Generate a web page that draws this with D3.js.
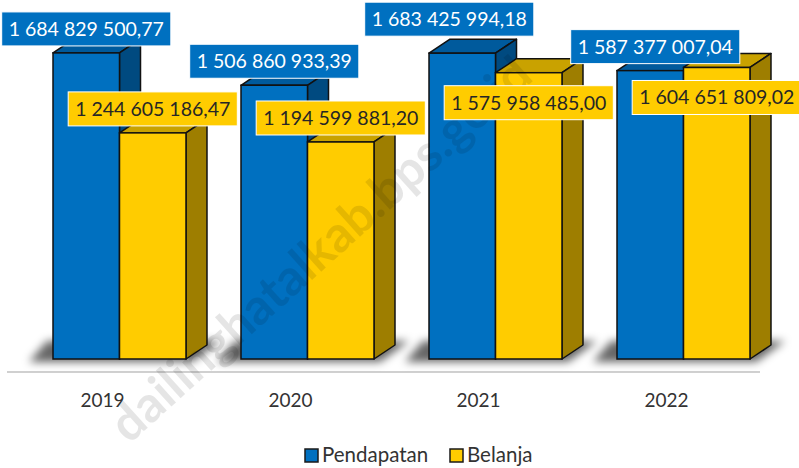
<!DOCTYPE html>
<html>
<head>
<meta charset="utf-8">
<script src="https://cdn.jsdelivr.net/npm/d3@7"></script>
<style>
  html, body { margin: 0; padding: 0; background: #ffffff; }
  svg { display: block; font-family: Lato, "Open Sans", sans-serif; }
</style>
</head>
<body>
<svg id="chart" width="799" height="468"></svg>
<script>
// ---- data ----
const years = ["2019", "2020", "2021", "2022"];
const seriesNames = ["Pendapatan", "Belanja"];
const pendapatan = [1684829500.77, 1506860933.39, 1683425994.18, 1587377007.04];
const belanja = [1244605186.47, 1194599881.20, 1575958485.00, 1604651809.02];
const labelPendapatan = ["1 684 829 500,77", "1 506 860 933,39", "1 683 425 994,18", "1 587 377 007,04"];
const labelBelanja = ["1 244 605 186,47", "1 194 599 881,20", "1 575 958 485,00", "1 604 651 809,02"];

// ---- layout / style ----
const W = 799, H = 468;
const baseY = 359;
const depthX = 21, depthY = -14;
const styles = {
  Pendapatan: { front: "#0070C0", top: "#005A9C", side: "#004A80", text: "#ffffff" },
  Belanja:    { front: "#FFCC00", top: "#C9A200", side: "#9E7E00", text: "#262626" }
};
// label nudges (Excel moved some labels to avoid overlaps)
const labelNudge = {
  Pendapatan: [[0, 0], [0, 0], [-13, -10], [5, 0]],
  Belanja:    [[0, 0], [0, 0], [0, 54], [0, 54]]
};

const svg = d3.select("#chart");
const defs = svg.append("defs");
defs.append("filter").attr("id", "shadowBlur")
  .attr("x", "-50%").attr("y", "-100%").attr("width", "200%").attr("height", "300%")
  .append("feGaussianBlur").attr("stdDeviation", 4);

const x0 = d3.scaleBand().domain(years).range([25.5, 777.5])
  .paddingInner(0.2926).paddingOuter(0.1463);
const x1 = d3.scaleBand().domain(seriesNames).range([0, x0.bandwidth()]);
const y = d3.scaleLinear().domain([0, 1800000000]).range([baseY, 32]);

const valuesBy = { Pendapatan: pendapatan, Belanja: belanja };
const labelsBy = { Pendapatan: labelPendapatan, Belanja: labelBelanja };

// axis line
svg.append("line")
  .attr("x1", 7).attr("x2", 760).attr("y1", 372).attr("y2", 372)
  .attr("stroke", "#D0D0D0").attr("stroke-width", 2);

// shadows
const shadowG = svg.append("g").attr("filter", "url(#shadowBlur)");
years.forEach(yr => {
  const xl = x0(yr), xr = x0(yr) + x0.bandwidth();
  shadowG.append("path")
    .attr("d", `M${xl - 24},${baseY + 3} L${xr + 6},${baseY + 3} L${xr + depthX + 14},${baseY + depthY - 4} L${xl - 6},${baseY + depthY - 4} Z`)
    .attr("fill", "#000").attr("opacity", 0.6);
});

// bars
const barsG = svg.append("g");
years.forEach((yr, i) => {
  seriesNames.forEach(s => {
    const v = valuesBy[s][i];
    const xl = x0(yr) + x1(s);
    const xr = xl + x1.bandwidth();
    const yt = y(v), yb = y(0);
    const st = styles[s];
    const g = barsG.append("g");
    g.append("path")
      .attr("d", `M${xl},${yt} L${xl + depthX},${yt + depthY} L${xr + depthX},${yt + depthY} L${xr},${yt} Z`)
      .attr("fill", st.top).attr("stroke", "#111").attr("stroke-width", 1.5).attr("stroke-linejoin", "round");
    g.append("path")
      .attr("d", `M${xr},${yt} L${xr + depthX},${yt + depthY} L${xr + depthX},${yb + depthY} L${xr},${yb} Z`)
      .attr("fill", st.side).attr("stroke", "#111").attr("stroke-width", 1.5).attr("stroke-linejoin", "round");
    g.append("rect")
      .attr("x", xl).attr("y", yt).attr("width", xr - xl).attr("height", yb - yt)
      .attr("fill", st.front).attr("stroke", "#111").attr("stroke-width", 1.5);
  });
});

// watermark
svg.append("text")
  .attr("transform", "translate(332,262) rotate(-42)")
  .attr("text-anchor", "middle")
  .attr("font-size", 50).attr("font-weight", "bold")
  .attr("fill", "#000").attr("fill-opacity", 0.1)
  .text("dailinghatalkab.bps.go.id");

// data labels
const labelG = svg.append("g");
years.forEach((yr, i) => {
  seriesNames.forEach(s => {
    const v = valuesBy[s][i];
    const st = styles[s];
    const cx = x0(yr) + x1(s) + x1.bandwidth() / 2 + labelNudge[s][i][0];
    const bottom = y(v) - 7 + labelNudge[s][i][1];
    const boxH = 34;
    const g = labelG.append("g");
    const rect = g.append("rect");
    const t = g.append("text")
      .attr("x", cx).attr("y", bottom - boxH / 2 + 7)
      .attr("text-anchor", "middle")
      .attr("font-size", 19.5)
      .attr("fill", st.text)
      .text(labelsBy[s][i]);
    const tw = t.node().getComputedTextLength();
    const bw = tw + 14;
    rect.attr("x", cx - bw / 2).attr("y", bottom - boxH)
      .attr("width", bw).attr("height", boxH)
      .attr("fill", st.front).attr("stroke", "#ffffff").attr("stroke-width", 1);
  });
});

// category labels
svg.append("g").selectAll("text").data(years).join("text")
  .attr("x", d => x0(d) + x0.bandwidth() / 2 - 17)
  .attr("y", 407)
  .attr("text-anchor", "middle")
  .attr("font-size", 19)
  .attr("fill", "#333333")
  .text(d => d);

// legend
const legendItems = [
  { name: "Pendapatan", x: 305 },
  { name: "Belanja", x: 450 }
];
const lg = svg.append("g");
legendItems.forEach(it => {
  lg.append("rect").attr("x", it.x).attr("y", 449).attr("width", 13).attr("height", 13)
    .attr("fill", styles[it.name].front).attr("stroke", "#1a1a1a").attr("stroke-width", 1.5);
  lg.append("text").attr("x", it.x + 17).attr("y", 462)
    .attr("font-size", 20.5).attr("fill", "#333333").text(it.name);
});
</script>
</body>
</html>
